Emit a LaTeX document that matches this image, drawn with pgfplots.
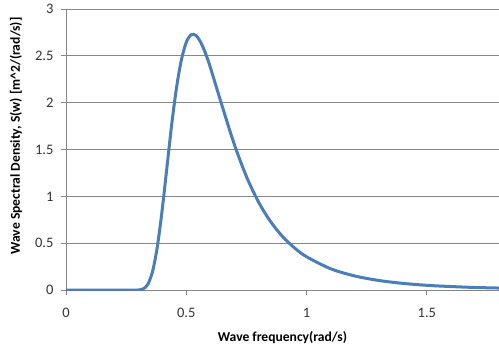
\documentclass[border=0pt]{standalone}
\usepackage{fontspec}
\setmainfont{Carlito}
\usepackage{pgfplots}
\pgfplotsset{compat=1.18}
\definecolor{exblue}{RGB}{74,126,187}
\definecolor{exgray}{RGB}{134,134,134}
\begin{document}
\begin{tikzpicture}
\begin{axis}[name=ax, scale only axis, width=433pt, height=281pt,
  xmin=0, xmax=1.8, ymin=0, ymax=3,
  axis lines*=left, axis line style={exgray, line width=0.8pt, -},
  xtick={0,0.5,1,1.5}, ytick={0,0.5,1,1.5,2,2.5,3},
  tick align=outside, major tick length=5pt, tick style={exgray, line width=0.8pt},
  ymajorgrids, grid style={exgray, line width=0.8pt},
  /pgf/number format/assume math mode=true,
  ticklabel style={font=\fontsize{14.5}{16}\selectfont, text=black!80},
  xticklabel style={yshift=-10pt},
  yticklabel style={xshift=-4pt},
  xlabel={Wave frequency(rad/s)},
  ylabel={Wave Spectral Density, S(w) [m\textasciicircum 2/(rad/s)]},
  label style={font=\bfseries\fontsize{13.6}{15}\selectfont},
  xlabel style={at={(axis description cs:0.5,-0.1708)}, anchor=center},
  ylabel style={at={(axis description cs:-0.1155,0.548)}, anchor=center},
]
\addplot[exblue, line width=3pt, smooth, line join=round] coordinates {
(0,0) (0.28,0) (0.30,0.001) (0.32,0.011) (0.34,0.060) (0.36,0.200) (0.38,0.468)
(0.40,0.860) (0.42,1.32) (0.44,1.78) (0.46,2.17) (0.48,2.46) (0.50,2.645)
(0.52,2.725) (0.54,2.718) (0.56,2.645) (0.58,2.526) (0.60,2.377) (0.65,1.957)
(0.70,1.552) (0.75,1.212) (0.80,0.941) (0.85,0.732) (0.90,0.571) (0.95,0.449)
(1.00,0.355) (1.10,0.227) (1.20,0.150) (1.30,0.102) (1.40,0.071) (1.50,0.050)
(1.60,0.037) (1.70,0.027) (1.80,0.021)
};
\end{axis}
\pgfresetboundingbox
\path ([xshift=-66pt,yshift=-61pt]ax.south west) rectangle ([yshift=9pt]ax.north east);
\end{tikzpicture}
\end{document}
